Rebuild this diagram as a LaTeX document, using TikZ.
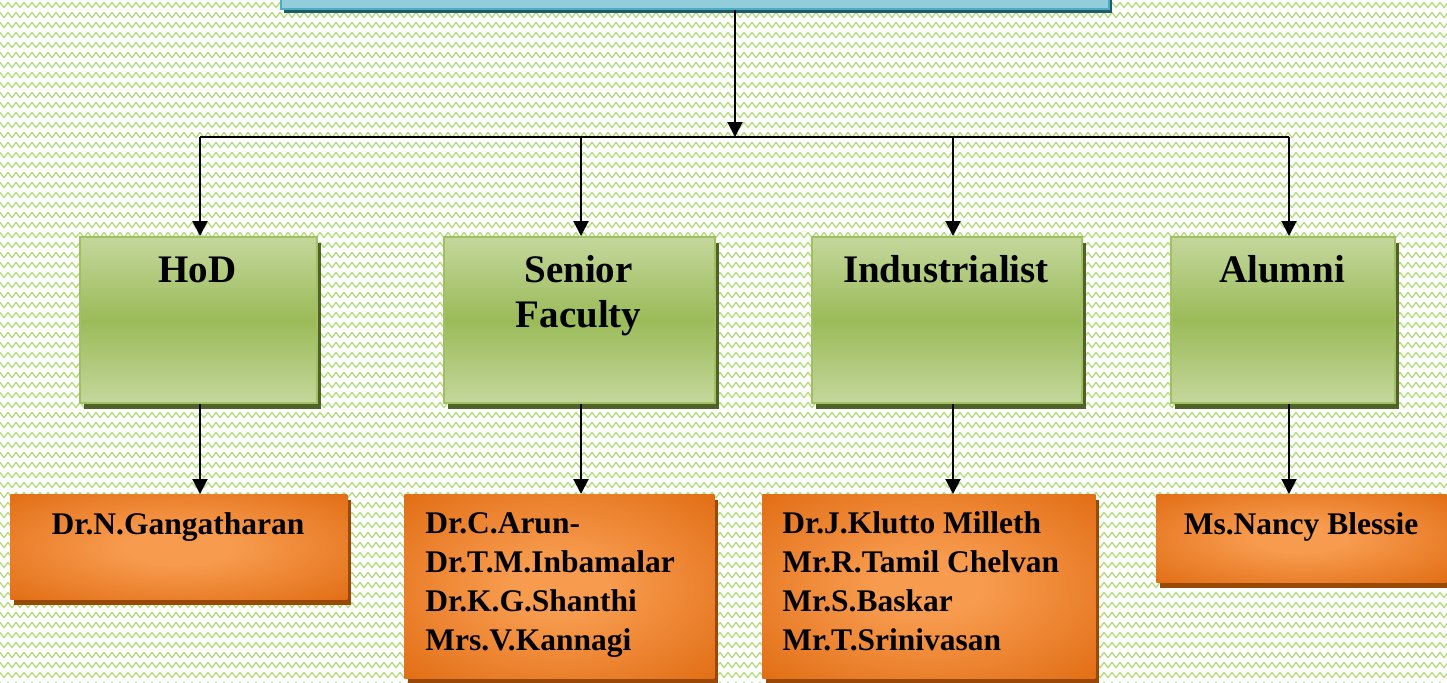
\documentclass[tikz,border=0pt]{standalone}
\usepackage{fontspec}
\setmainfont{Liberation Serif}
\usetikzlibrary{arrows.meta,decorations.pathmorphing,shadows}
\definecolor{bggreen}{RGB}{178,220,122}
\definecolor{gLight}{RGB}{196,215,156}
\definecolor{gMid}{RGB}{155,187,89}
\definecolor{gBorder}{RGB}{160,192,98}
\definecolor{gShadow}{RGB}{79,98,40}
\definecolor{orL}{RGB}{247,155,78}
\definecolor{orD}{RGB}{224,106,16}
\definecolor{orShadow}{RGB}{152,72,7}
\definecolor{bFace}{RGB}{146,205,220}
\definecolor{bBorder}{RGB}{75,172,198}
\definecolor{bShadow}{RGB}{33,89,104}
\pgfdeclareradialshading{orglow}{\pgfpoint{0bp}{0bp}}{color(0bp)=(orL); color(8bp)=(orL); color(38bp)=(orD); color(60bp)=(orD)}
\tikzset{
  bgline/.style={decorate, decoration={zigzag, segment length=4pt, amplitude=1.3pt}, draw=bggreen, line width=0.65pt, line join=round},
  greenbox/.style={anchor=north west, inner sep=0pt, minimum height=83pt,
    top color=gLight, bottom color=gLight, middle color=gMid,
    draw=gBorder, line width=1.2pt,
    drop shadow={shadow xshift=2pt, shadow yshift=-2.8pt, opacity=1, fill=gShadow}},
  orangebox/.style={anchor=north west, inner sep=0pt, shading=orglow,
    drop shadow={shadow xshift=2pt, shadow yshift=-2.8pt, opacity=1, fill=orShadow}},
  bluebox/.style={anchor=north west, inner sep=0pt, fill=bFace, draw=bBorder, line width=1pt,
    drop shadow={shadow xshift=1.5pt, shadow yshift=-2pt, opacity=1, fill=bShadow}},
  headtext/.style={anchor=base, inner sep=0pt, align=center, font=\fontsize{19.5}{22.5}\selectfont\bfseries},
  nametext/.style={anchor=base west, inner sep=0pt, align=left, font=\fontsize{15.75}{19.35}\selectfont\bfseries},
  nametextc/.style={anchor=base, inner sep=0pt, font=\fontsize{15.75}{19.35}\selectfont\bfseries},
  arr/.style={draw=black, line width=1pt, -{Triangle[width=7.5pt,length=7.5pt]}},
  conn/.style={draw=black, line width=1pt}
}
\begin{document}
\begin{tikzpicture}[x=0.5pt,y=-0.5pt]
\useasboundingbox (0,0) rectangle (1447,682);
\clip (0,0) rectangle (1447,682);
\fill[white] (0,0) rectangle (1447,682);
\foreach \r in {0,...,68} \draw[bgline] (-10,{\r*10+5}) -- (1460,{\r*10+5});

% top box (cut off)
\node[bluebox, minimum width=414pt, minimum height=20pt] (top) at (280,-32) {};

% level 2 boxes
\node[greenbox, minimum width=118.5pt] (hod) at (79,236) {};
\node[greenbox, minimum width=135.5pt] (sen) at (443,236) {};
\node[greenbox, minimum width=135pt] (ind) at (811,236) {};
\node[greenbox, minimum width=112pt] (alu) at (1170,236) {};

\node[headtext] (hodt) at (197.5,282) {HoD};
\node[headtext] (sent) at (578.5,327) {Senior\\Faculty};
\node[headtext] (indt) at (946,282) {Industrialist};
\node[headtext] (alut) at (1282,282) {Alumni};

% level 3 boxes
\node[orangebox, minimum width=168.5pt, minimum height=52.5pt] (gang) at (10,494) {};
\node[orangebox, minimum width=155pt, minimum height=92pt] (senl) at (404,494) {};
\node[orangebox, minimum width=166.5pt, minimum height=92pt] (indl) at (762,494) {};
\node[orangebox, minimum width=145pt, minimum height=44pt] (nan) at (1156,494) {};

\node[nametextc] (gangt) at (178,534) {Dr.N.Gangatharan};
\node[nametext] (senlt) at (425,650) {Dr.C.Arun-\\Dr.T.M.Inbamalar\\Dr.K.G.Shanthi\\Mrs.V.Kannagi};
\node[nametext] (indlt) at (782,650) {Dr.J.Klutto Milleth\\Mr.R.Tamil Chelvan\\Mr.S.Baskar\\Mr.T.Srinivasan};
\node[nametextc] (nant) at (1301,534) {Ms.Nancy Blessie};

% connectors
\coordinate (j) at (735,137);
\coordinate (j1) at (200,137);
\coordinate (j2) at (581,137);
\coordinate (j3) at (953,137);
\coordinate (j4) at (1289,137);
\draw[arr] (j |- top.south) -- (j);
\draw[conn] (j1) -- (j4);
\draw[arr] (j1) -- (j1 |- hod.north);
\draw[arr] (j2) -- (j2 |- sen.north);
\draw[arr] (j3) -- (j3 |- ind.north);
\draw[arr] (j4) -- (j4 |- alu.north);
\draw[arr] (j1 |- hod.south) -- (j1 |- gang.north);
\draw[arr] (j2 |- sen.south) -- (j2 |- senl.north);
\draw[arr] (j3 |- ind.south) -- (j3 |- indl.north);
\draw[arr] (j4 |- alu.south) -- (j4 |- nan.north);
\end{tikzpicture}
\end{document}
